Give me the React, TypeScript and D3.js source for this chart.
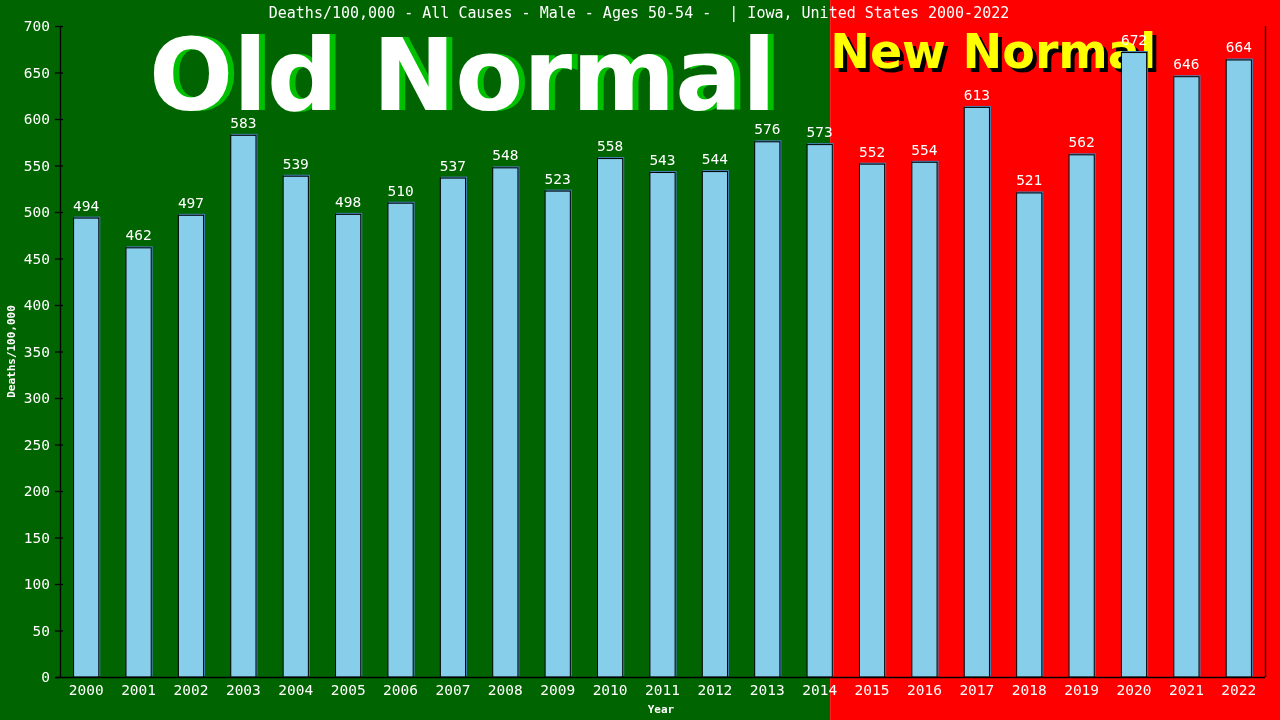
import { useEffect, useRef } from 'react';
import * as d3 from 'd3';

const years = [
  '2000', '2001', '2002', '2003', '2004', '2005', '2006', '2007', '2008', '2009', '2010', '2011',
  '2012', '2013', '2014', '2015', '2016', '2017', '2018', '2019', '2020', '2021', '2022',
];
const deathRates = [
  494, 462, 497, 583, 539, 498, 510, 537, 548, 523, 558, 543, 544, 576, 573, 552, 554, 613, 521,
  562, 672, 646, 664,
];
const yTicks = [0, 50, 100, 150, 200, 250, 300, 350, 400, 450, 500, 550, 600, 650, 700];
const title = 'Deaths/100,000 - All Causes - Male - Ages 50-54 -  | Iowa, United States 2000-2022';
const splitYear = '2014';

const W = 1280;
const H = 720;
const mono = '"DejaVu Sans Mono", "Liberation Mono", monospace';

export default function App() {
  const svgRef = useRef<SVGSVGElement>(null);

  useEffect(() => {
    if (!svgRef.current) return;
    const svg = d3.select(svgRef.current);
    svg.selectAll('*').remove();

    const margin = { top: 26, right: 15, bottom: 43, left: 60 };
    const innerW = W - margin.left - margin.right;
    const innerH = H - margin.top - margin.bottom;

    const x = d3.scaleBand().domain(years).range([margin.left, margin.left + innerW]).paddingInner(0.5).paddingOuter(0.25);
    const y = d3.scaleLinear().domain([0, 700]).range([margin.top + innerH, margin.top]);

    // background split: old normal (green) / new normal (red)
    const splitX = (x(splitYear) || 0) + x.bandwidth() * 0.9;
    svg.append('rect').attr('x', 0).attr('y', 0).attr('width', splitX).attr('height', H).attr('fill', '#006400');
    svg.append('rect').attr('x', splitX).attr('y', 0).attr('width', W - splitX).attr('height', H).attr('fill', '#ff0000');

    // big labels
    const big = svg.append('g').attr('font-family', '"DejaVu Sans", Verdana, sans-serif').attr('font-weight', 'bold');
    big.append('text').attr('x', 155).attr('y', 110).attr('font-size', 99).attr('fill', '#00c000').text('Old Normal');
    big.append('text').attr('x', 149).attr('y', 110).attr('font-size', 99).attr('fill', '#ffffff').text('Old Normal');

    big.append('text').attr('x', splitX + 4).attr('y', 72).attr('font-size', 47.5).attr('fill', '#000000').text('New Normal');
    big.append('text').attr('x', splitX).attr('y', 68).attr('font-size', 47.5).attr('fill', '#ffff00').text('New Normal');

    // title
    svg.append('text')
      .attr('x', W / 2 - 1).attr('y', 18)
      .attr('text-anchor', 'middle')
      .attr('font-family', mono).attr('font-size', 15)
      .attr('fill', '#ffffff')
      .attr('xml:space', 'preserve')
      .text(title);

    // bars
    const bars = svg.append('g');
    years.forEach((yr, i) => {
      const bx = x(yr) || 0;
      const by = y(deathRates[i]);
      const bh = y(0) - by;
      bars.append('rect')
        .attr('x', bx + 1).attr('y', by - 1)
        .attr('width', x.bandwidth()).attr('height', bh)
        .attr('fill', '#4682b4');
      bars.append('rect')
        .attr('x', bx + 0.5).attr('y', by + 0.5)
        .attr('width', x.bandwidth() - 1).attr('height', bh - 0.5)
        .attr('fill', '#87ceeb').attr('stroke', '#000000').attr('stroke-width', 1);
      bars.append('text')
        .attr('x', bx + x.bandwidth() / 2).attr('y', by - 7)
        .attr('text-anchor', 'middle')
        .attr('font-family', mono).attr('font-size', 14.5)
        .attr('fill', '#ffffff')
        .text(String(deathRates[i]));
    });

    // axes
    const axisG = svg.append('g').attr('stroke', '#000000').attr('stroke-width', 1.3);
    axisG.append('line').attr('x1', margin.left + 0.5).attr('x2', margin.left + 0.5).attr('y1', margin.top).attr('y2', y(0));
    axisG.append('line').attr('x1', 55).attr('x2', margin.left + innerW).attr('y1', y(0) + 0.5).attr('y2', y(0) + 0.5);
    axisG.append('line').attr('x1', margin.left + innerW + 0.5).attr('x2', margin.left + innerW + 0.5).attr('y1', margin.top).attr('y2', y(0));

    yTicks.forEach((t) => {
      axisG.append('line').attr('x1', 55).attr('x2', 63).attr('y1', y(t) + 0.5).attr('y2', y(t) + 0.5);
      svg.append('text')
        .attr('x', 50).attr('y', y(t) + 5)
        .attr('text-anchor', 'end')
        .attr('font-family', mono).attr('font-size', 14.5)
        .attr('fill', '#ffffff')
        .text(String(t));
    });

    years.forEach((yr) => {
      svg.append('text')
        .attr('x', (x(yr) || 0) + x.bandwidth() / 2).attr('y', 695)
        .attr('text-anchor', 'middle')
        .attr('font-family', mono).attr('font-size', 14.5)
        .attr('fill', '#ffffff')
        .text(yr);
    });

    svg.append('text')
      .attr('x', 661).attr('y', 713)
      .attr('text-anchor', 'middle')
      .attr('font-family', mono).attr('font-size', 11).attr('font-weight', 'bold')
      .attr('fill', '#ffffff')
      .text('Year');

    svg.append('text')
      .attr('transform', `translate(15,${(margin.top + y(0)) / 2}) rotate(-90)`)
      .attr('text-anchor', 'middle')
      .attr('font-family', mono).attr('font-size', 11).attr('font-weight', 'bold')
      .attr('fill', '#ffffff')
      .text('Deaths/100,000');
  }, []);

  return (
    <div style={{ position: 'fixed', left: 0, top: 0, width: W, height: H }}>
      <svg ref={svgRef} width={W} height={H} style={{ display: 'block' }} />
    </div>
  );
}
